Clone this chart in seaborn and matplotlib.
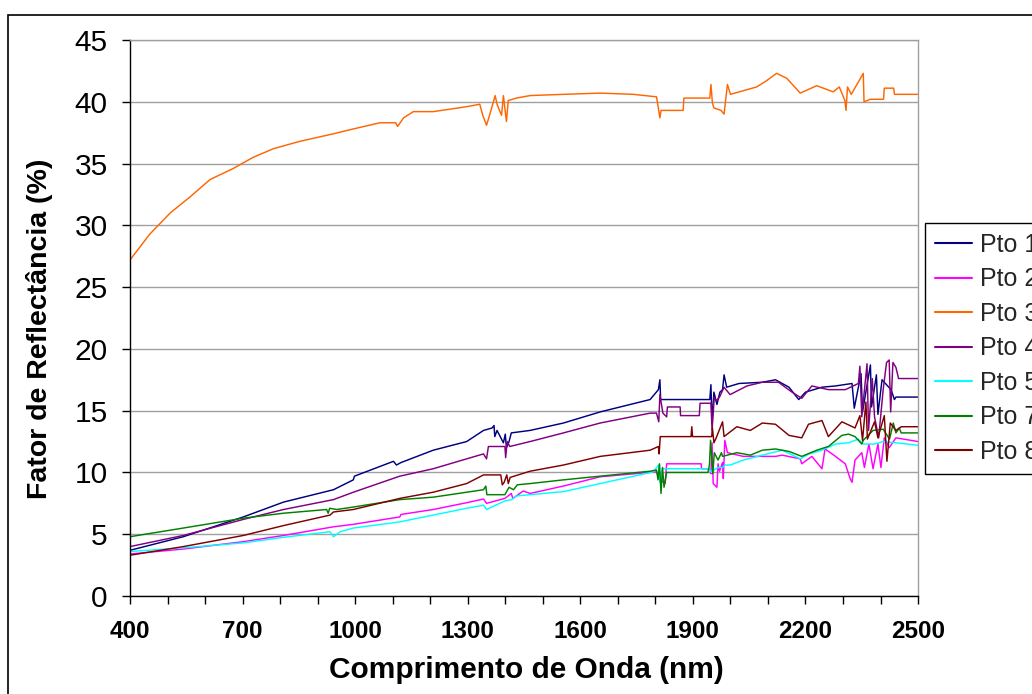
import numpy as np
import pandas as pd
import matplotlib
matplotlib.use('Agg')
import matplotlib.pyplot as plt
from matplotlib.patches import Rectangle
from matplotlib.ticker import MultipleLocator
import seaborn as sns

# (wavelength nm, reflectance %)
pto_1 = [(400, 3.7), (542, 4.8), (702, 6.4), (809, 7.6), (942, 8.6), (995, 9.4), (998, 9.7),
         (1102, 10.9), (1110, 10.6), (1122, 10.8), (1208, 11.8), (1297, 12.5), (1342, 13.4),
         (1365, 13.6), (1370, 13.8), (1372, 12.9), (1378, 13.4), (1395, 12.4), (1400, 13.1),
         (1403, 12.0), (1410, 12.5), (1416, 13.2), (1466, 13.4), (1555, 14.0), (1653, 14.9),
         (1786, 15.9), (1808, 16.7), (1812, 17.5), (1814, 15.9), (1945, 15.9), (1948, 17.1),
         (1951, 14.0), (1956, 16.5), (1964, 15.5), (1972, 16.5), (1979, 16.7), (1983, 17.9),
         (1990, 16.9), (2023, 17.2), (2085, 17.3), (2120, 17.5), (2156, 16.9), (2182, 15.9),
         (2200, 16.5), (2244, 16.9), (2280, 17.0), (2324, 17.2), (2330, 15.2), (2348, 18.0),
         (2352, 14.9), (2373, 18.7), (2376, 15.3), (2389, 17.9), (2393, 14.7), (2404, 17.5),
         (2428, 16.7), (2437, 15.9), (2441, 16.1), (2500, 16.1)]

pto_2 = [(400, 3.4), (542, 3.8), (702, 4.4), (809, 4.9), (942, 5.6), (995, 5.8), (1119, 6.4),
         (1122, 6.6), (1208, 7.0), (1297, 7.55), (1342, 7.85), (1350, 7.5), (1399, 7.9),
         (1416, 8.3), (1420, 7.9), (1448, 8.5), (1466, 8.3), (1555, 8.9), (1653, 9.65),
         (1803, 10.05), (1812, 9.4), (1826, 9.1), (1830, 10.7), (1922, 10.7), (1923, 10.3),
         (1945, 10.3), (1948, 9.9), (1951, 12.4), (1954, 9.1), (1964, 8.8), (1967, 10.7),
         (1971, 10.1), (1979, 10.8), (1981, 9.5), (1985, 12.6), (1992, 11.6), (2034, 11.3),
         (2085, 11.3), (2120, 11.3), (2138, 11.4), (2186, 11.1), (2190, 10.7), (2217, 11.3),
         (2244, 10.3), (2252, 11.9), (2280, 11.3), (2306, 10.7), (2319, 9.5), (2324, 9.2),
         (2332, 11.0), (2350, 11.6), (2357, 10.4), (2369, 12.3), (2380, 10.3), (2393, 12.3),
         (2401, 10.4), (2410, 12.8), (2423, 12.0), (2441, 12.8), (2500, 12.5)]

pto_3 = [(400, 27.2), (453, 29.3), (507, 31.0), (560, 32.3), (613, 33.7), (675, 34.6), (728, 35.5),
         (782, 36.2), (853, 36.8), (941, 37.4), (995, 37.8), (1066, 38.3), (1108, 38.3),
         (1113, 38.0), (1129, 38.7), (1155, 39.2), (1208, 39.2), (1297, 39.6), (1332, 39.8),
         (1340, 38.9), (1350, 38.1), (1358, 38.9), (1373, 40.5), (1378, 39.8), (1390, 38.9),
         (1395, 40.5), (1403, 38.4), (1408, 40.1), (1430, 40.3), (1466, 40.5), (1555, 40.6),
         (1653, 40.7), (1741, 40.6), (1803, 40.4), (1812, 38.7), (1815, 39.3), (1874, 39.3),
         (1876, 40.3), (1945, 40.3), (1948, 41.4), (1952, 39.9), (1956, 39.5), (1975, 39.3),
         (1983, 39.0), (1992, 41.4), (2000, 40.6), (2070, 41.2), (2096, 41.7), (2123, 42.3),
         (2150, 41.9), (2186, 40.7), (2230, 41.3), (2274, 40.8), (2290, 41.2), (2305, 40.1),
         (2308, 39.3), (2312, 41.2), (2322, 40.6), (2354, 42.3), (2356, 40.0), (2373, 40.2),
         (2408, 40.2), (2410, 41.1), (2435, 41.1), (2437, 40.6), (2500, 40.6)]

pto_4 = [(400, 4.0), (542, 4.9), (702, 6.2), (809, 7.0), (942, 7.8), (995, 8.4), (1119, 9.7),
         (1208, 10.3), (1297, 11.1), (1342, 11.5), (1350, 11.1), (1355, 12.1), (1399, 12.1),
         (1401, 11.2), (1405, 12.5), (1412, 12.1), (1439, 12.3), (1466, 12.5), (1555, 13.2),
         (1653, 14.0), (1786, 14.8), (1803, 14.8), (1809, 14.1), (1812, 16.3), (1820, 14.8),
         (1830, 14.5), (1832, 15.3), (1866, 15.3), (1867, 14.6), (1917, 14.6), (1919, 15.6),
         (1948, 15.6), (1951, 13.4), (1957, 16.1), (1962, 15.8), (1971, 16.1), (1983, 16.9),
         (1999, 16.3), (2044, 17.0), (2085, 17.3), (2128, 17.3), (2164, 16.5), (2190, 16.0),
         (2217, 17.0), (2261, 16.7), (2306, 16.7), (2341, 17.2), (2345, 18.6), (2350, 14.5),
         (2364, 18.8), (2368, 13.4), (2378, 17.6), (2384, 14.5), (2395, 12.8), (2407, 16.7),
         (2416, 18.9), (2423, 19.1), (2427, 14.9), (2433, 18.9), (2441, 18.5), (2448, 17.6),
         (2500, 17.6)]

pto_5 = [(400, 3.6), (542, 3.9), (702, 4.3), (809, 4.75), (933, 5.2), (942, 4.8), (960, 5.2),
         (995, 5.5), (1119, 6.0), (1208, 6.55), (1297, 7.1), (1342, 7.35), (1350, 7.0),
         (1399, 7.7), (1417, 7.8), (1430, 8.1), (1466, 8.2), (1555, 8.45), (1653, 9.1),
         (1795, 10.05), (1808, 10.6), (1812, 9.2), (1818, 10.3), (1945, 10.3), (1949, 10.0),
         (1956, 10.2), (1967, 10.4), (1979, 10.4), (1985, 10.6), (2000, 10.6), (2034, 11.0),
         (2085, 11.4), (2138, 11.8), (2186, 11.1), (2210, 11.5), (2244, 11.8), (2280, 12.3),
         (2315, 12.4), (2341, 12.7), (2354, 12.3), (2384, 12.3), (2407, 12.5), (2441, 12.4),
         (2500, 12.2)]

pto_7 = [(400, 4.8), (542, 5.5), (702, 6.3), (809, 6.7), (924, 7.0), (928, 6.7), (932, 7.1),
         (951, 7.0), (995, 7.2), (1119, 7.8), (1208, 8.0), (1297, 8.4), (1342, 8.6), (1348, 8.9),
         (1351, 8.2), (1399, 8.2), (1410, 8.8), (1422, 8.6), (1432, 9.0), (1466, 9.1),
         (1555, 9.4), (1653, 9.7), (1786, 10.1), (1803, 10.2), (1807, 9.4), (1811, 10.7),
         (1815, 8.3), (1819, 10.4), (1823, 8.8), (1830, 10.0), (1940, 10.0), (1944, 10.6),
         (1947, 12.6), (1953, 9.9), (1957, 11.6), (1967, 11.0), (1976, 11.6), (1979, 11.3),
         (2017, 11.6), (2053, 11.4), (2085, 11.8), (2120, 11.9), (2156, 11.7), (2190, 11.3),
         (2230, 11.8), (2261, 12.1), (2297, 13.0), (2315, 13.1), (2332, 12.9), (2350, 12.3),
         (2354, 12.6), (2380, 13.4), (2407, 13.5), (2424, 12.7), (2434, 14.0), (2441, 13.2),
         (2450, 13.6), (2455, 13.2), (2500, 13.2)]

pto_8 = [(400, 3.3), (542, 4.0), (702, 4.9), (809, 5.7), (933, 6.55), (942, 6.8), (995, 7.0),
         (1119, 7.9), (1208, 8.4), (1297, 9.1), (1342, 9.8), (1388, 9.8), (1392, 9.0),
         (1397, 9.2), (1404, 9.8), (1408, 9.1), (1413, 9.6), (1466, 10.1), (1555, 10.6),
         (1653, 11.3), (1786, 11.8), (1808, 12.1), (1810, 11.5), (1813, 12.9), (1895, 12.9),
         (1897, 13.7), (1899, 12.9), (1950, 12.9), (1952, 13.6), (1956, 12.4), (1962, 12.8),
         (1979, 14.1), (1983, 12.9), (2017, 13.7), (2053, 13.4), (2085, 14.0), (2120, 13.9),
         (2156, 13.0), (2190, 12.8), (2208, 13.9), (2244, 14.2), (2261, 12.9), (2297, 14.1),
         (2332, 13.6), (2345, 14.6), (2352, 12.6), (2361, 15.7), (2365, 12.7), (2384, 14.1),
         (2393, 12.8), (2410, 14.6), (2417, 10.9), (2426, 14.0), (2441, 13.4), (2455, 13.7),
         (2500, 13.7)]

names = ['Pto 1', 'Pto 2', 'Pto 3', 'Pto 4', 'Pto 5', 'Pto 7', 'Pto 8']
colors = ['#000080', '#FF00FF', '#FF6600', '#800080', '#00FFFF', '#008000', '#800000']
series = [pto_1, pto_2, pto_3, pto_4, pto_5, pto_7, pto_8]

rows = []
for name, pts in zip(names, series):
    for wl, r in pts:
        rows.append({'wl': wl, 'r': r, 'ponto': name})
df = pd.DataFrame(rows)

sns.set_theme(style='white')
plt.rcParams['font.family'] = ['Liberation Sans', 'DejaVu Sans']

fig = plt.figure(figsize=(10.32, 6.94), dpi=100)
ax = fig.add_axes([0.126, 0.1412, 0.7636, 0.8012])

sns.lineplot(data=df, x='wl', y='r', hue='ponto', hue_order=names,
             palette=dict(zip(names, colors)), estimator=None, sort=False,
             lw=1.05, ax=ax)

ax.set_xlim(400, 2500)
ax.set_ylim(0, 45)
ax.set_xticks(np.arange(400, 2501, 300))
ax.xaxis.set_minor_locator(MultipleLocator(100))
ax.yaxis.set_major_locator(MultipleLocator(5))
ax.grid(axis='y', color='#a0a0a0', lw=1)
ax.grid(axis='x', visible=False)

ax.tick_params(axis='both', which='both', direction='out', length=6, width=1,
               color='black', bottom=True, left=True)
ax.tick_params(axis='y', labelsize=21.5, pad=10, labelcolor='black')
ax.tick_params(axis='x', labelsize=17.5, pad=11, labelcolor='black')
for lbl in ax.get_xticklabels():
    lbl.set_fontweight('bold')

ax.set_xlabel('Comprimento de Onda (nm)', fontsize=21.5, fontweight='bold', color='black')
ax.set_ylabel('Fator de Reflectância (%)', fontsize=20.5, fontweight='bold', color='black')
ax.xaxis.set_label_coords(0.5025, -0.108)
ax.yaxis.set_label_coords(-0.098, 0.48)

for s in ['left', 'bottom']:
    ax.spines[s].set_color('black')
    ax.spines[s].set_linewidth(1)
for s in ['top', 'right']:
    ax.spines[s].set_color('#a0a0a0')
    ax.spines[s].set_linewidth(1)

leg = ax.legend(loc='upper left', bbox_to_anchor=(0.896, 0.679),
                bbox_transform=fig.transFigure, fontsize=18, frameon=True,
                fancybox=False, edgecolor='black', framealpha=1,
                handlelength=1.5, handletextpad=0.3, labelspacing=0.42,
                borderpad=0.4, borderaxespad=0)
leg.get_frame().set_linewidth(1.0)
for line in leg.get_lines():
    line.set_linewidth(1.5)

# chart border, runs off the right and bottom of the picture
fig.patches.append(Rectangle((0.0078, -0.2), 1.3, 1.1784, transform=fig.transFigure,
                             fill=False, ec='black', lw=1.2))

fig.savefig('out.png', dpi=100)
